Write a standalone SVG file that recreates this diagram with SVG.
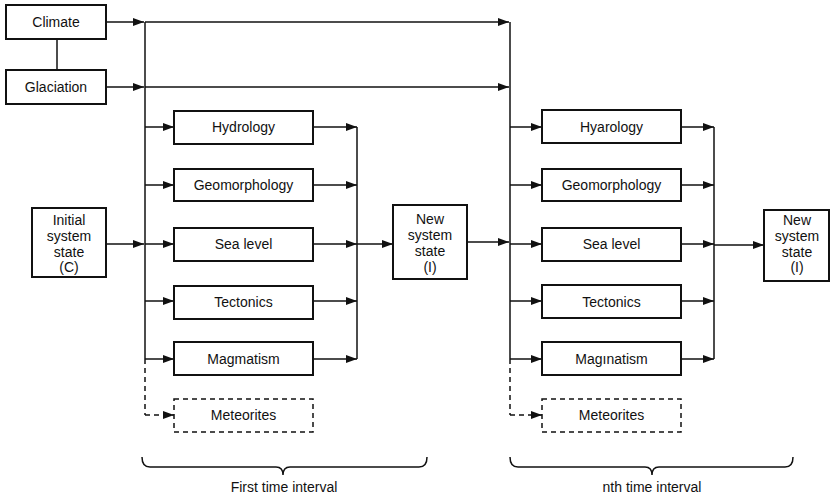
<svg xmlns="http://www.w3.org/2000/svg" width="831" height="497" viewBox="0 0 831 497">
  <style>
    .box { fill: #fff; stroke: #111; stroke-width: 2; }
    .dbox { fill: #fff; stroke: #111; stroke-width: 1.5; stroke-dasharray: 5 4; }
    .ln { fill: none; stroke: #111; stroke-width: 1.5; }
    .dash { fill: none; stroke: #111; stroke-width: 1.5; stroke-dasharray: 5 4; }
    .arr { fill: none; stroke: #111; stroke-width: 1.5; marker-end: url(#ah); }
    .darr { fill: none; stroke: #111; stroke-width: 1.5; stroke-dasharray: 5 4; marker-end: url(#ah); }
    .brace { fill: none; stroke: #111; stroke-width: 1.5; }
    text { font-family: "Liberation Sans", Arial, sans-serif; font-size: 14px; fill: #111; text-anchor: middle; }
  </style>
  <defs>
    <marker id="ah" markerUnits="userSpaceOnUse" markerWidth="12" markerHeight="10" refX="11" refY="4" orient="auto">
      <path d="M0,0 L11,4 L0,8 Z" fill="#111"/>
    </marker>
  </defs>

  <!-- connectors -->
  <g id="connectors">
    <!-- climate / glaciation link -->
    <path class="ln" d="M57,39 V70"/>
    <!-- feeds into first trunk -->
    <path class="arr" d="M106,22 H144"/>
    <path class="arr" d="M106,87 H144"/>
    <path class="arr" d="M106,244 H144"/>
    <!-- long lines to second trunk -->
    <path class="arr" d="M145,22 H509"/>
    <path class="arr" d="M145,87 H509"/>
    <!-- first trunk -->
    <path class="ln" d="M145,22 V359"/>
    <path class="dash" d="M145,359 V415"/>
    <!-- first interval branches -->
    <path class="arr" d="M145,127 H174"/>
    <path class="arr" d="M145,185 H174"/>
    <path class="arr" d="M145,244 H174"/>
    <path class="arr" d="M145,301 H174"/>
    <path class="arr" d="M145,359 H174"/>
    <path class="darr" d="M145,415 H174"/>
    <!-- first interval outputs -->
    <path class="arr" d="M313,127 H357"/>
    <path class="arr" d="M313,185 H357"/>
    <path class="arr" d="M313,244 H357"/>
    <path class="arr" d="M313,301 H357"/>
    <path class="arr" d="M313,359 H357"/>
    <path class="ln" d="M357,127 V359"/>
    <path class="arr" d="M357,244 H393"/>
    <!-- new state to second trunk -->
    <path class="arr" d="M467,242 H509"/>
    <!-- second trunk -->
    <path class="ln" d="M510,22 V359"/>
    <path class="dash" d="M510,359 V415"/>
    <!-- nth interval branches -->
    <path class="arr" d="M510,127 H542"/>
    <path class="arr" d="M510,185 H542"/>
    <path class="arr" d="M510,244 H542"/>
    <path class="arr" d="M510,301 H542"/>
    <path class="arr" d="M510,359 H542"/>
    <path class="darr" d="M510,415 H542"/>
    <!-- nth interval outputs -->
    <path class="arr" d="M681,127 H714"/>
    <path class="arr" d="M681,185 H714"/>
    <path class="arr" d="M681,244 H714"/>
    <path class="arr" d="M681,301 H714"/>
    <path class="arr" d="M681,359 H714"/>
    <path class="ln" d="M714,127 V359"/>
    <path class="arr" d="M714,245 H764"/>
  </g>

  <!-- left inputs -->
  <g id="climate">
    <rect class="box" x="6" y="5" width="100" height="34"/>
    <text x="56" y="27">Climate</text>
  </g>
  <g id="glaciation">
    <rect class="box" x="6" y="70" width="100" height="34"/>
    <text x="56" y="92">Glaciation</text>
  </g>
  <g id="initial-state">
    <rect class="box" x="32" y="208" width="74" height="69"/>
    <text x="69" y="225">Initial</text>
    <text x="69" y="241">system</text>
    <text x="69" y="257">state</text>
    <text x="69" y="272">(C)</text>
  </g>

  <!-- first time interval -->
  <g id="hydrology-1">
    <rect class="box" x="174" y="111" width="139" height="33"/>
    <text x="243.5" y="132">Hydrology</text>
  </g>
  <g id="geomorphology-1">
    <rect class="box" x="174" y="169" width="139" height="32"/>
    <text x="243.5" y="190">Geomorphology</text>
  </g>
  <g id="sealevel-1">
    <rect class="box" x="174" y="228" width="139" height="33"/>
    <text x="243.5" y="249">Sea level</text>
  </g>
  <g id="tectonics-1">
    <rect class="box" x="174" y="286" width="139" height="33"/>
    <text x="243.5" y="307">Tectonics</text>
  </g>
  <g id="magmatism-1">
    <rect class="box" x="174" y="342" width="139" height="33"/>
    <text x="243.5" y="364">Magmatism</text>
  </g>
  <g id="meteorites-1">
    <rect class="dbox" x="174" y="399" width="139" height="33"/>
    <text x="243.5" y="420">Meteorites</text>
  </g>
  <g id="new-state-1">
    <rect class="box" x="393" y="205" width="74" height="74"/>
    <text x="430" y="224">New</text>
    <text x="430" y="240">system</text>
    <text x="430" y="256">state</text>
    <text x="430" y="272">(I)</text>
  </g>

  <!-- nth time interval -->
  <g id="hydrology-n">
    <rect class="box" x="542" y="110" width="139" height="33"/>
    <text x="611.5" y="132">Hyarology</text>
  </g>
  <g id="geomorphology-n">
    <rect class="box" x="542" y="169" width="139" height="32"/>
    <text x="611.5" y="190">Geomorphology</text>
  </g>
  <g id="sealevel-n">
    <rect class="box" x="542" y="228" width="139" height="33"/>
    <text x="611.5" y="249">Sea level</text>
  </g>
  <g id="tectonics-n">
    <rect class="box" x="542" y="285" width="139" height="33"/>
    <text x="611.5" y="307">Tectonics</text>
  </g>
  <g id="magmatism-n">
    <rect class="box" x="542" y="342" width="139" height="33"/>
    <text x="611.5" y="364">Magınatism</text>
  </g>
  <g id="meteorites-n">
    <rect class="dbox" x="542" y="399" width="139" height="33"/>
    <text x="611.5" y="420">Meteorites</text>
  </g>
  <g id="new-state-n">
    <rect class="box" x="764" y="210" width="65" height="71"/>
    <text x="797" y="225">New</text>
    <text x="797" y="241">system</text>
    <text x="797" y="257">state</text>
    <text x="797" y="272">(I)</text>
  </g>

  <!-- interval braces -->
  <g id="interval-1">
    <path class="brace" d="M142,457 Q142,467 150,467 H276 Q283,467 283,475 Q283,467 290,467 H419 Q427,467 427,457"/>
    <text x="284" y="492">First time interval</text>
  </g>
  <g id="interval-n">
    <path class="brace" d="M510,457 Q510,467 518,467 H645 Q652,467 652,475 Q652,467 659,467 H785 Q793,467 793,457"/>
    <text x="652" y="492">nth time interval</text>
  </g>
</svg>
